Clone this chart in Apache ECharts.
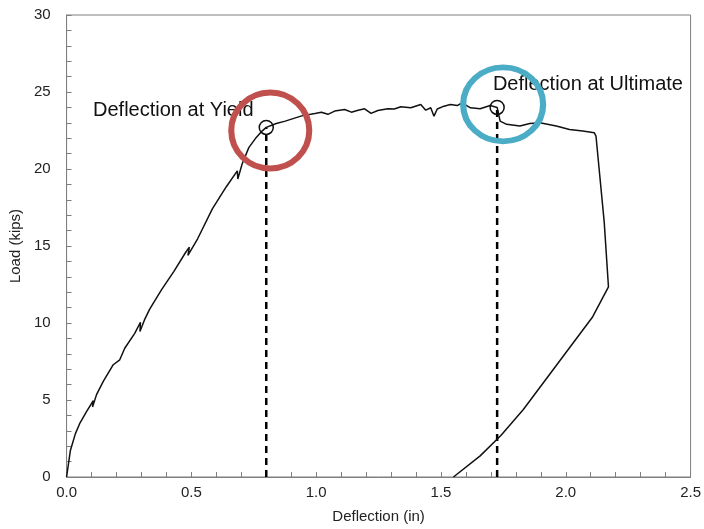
<!DOCTYPE html>
<html>
<head>
<meta charset="utf-8">
<script src="https://cdn.jsdelivr.net/npm/echarts@6/dist/echarts.min.js"></script>
<style>
	html, body { margin: 0; padding: 0; background: #fff; }
	#chart { width: 704px; height: 529px; }
</style>
</head>
<body>
<div id="chart"></div>
<script>
// load-deflection curve
var deflection = [0.000, 0.015, 0.035, 0.054, 0.081, 0.107, 0.104, 0.120, 0.147, 0.187, 0.213, 0.233,
	0.273, 0.296, 0.294, 0.312, 0.333, 0.380, 0.430, 0.478, 0.492, 0.486, 0.525, 0.584,
	0.640, 0.684, 0.692, 0.686, 0.703, 0.730, 0.760, 0.783, 0.800, 0.840, 0.876, 0.942,
	0.995, 1.021, 1.047, 1.074, 1.114, 1.141, 1.168, 1.194, 1.220, 1.247, 1.287, 1.313,
	1.339, 1.379, 1.419, 1.439, 1.459, 1.472, 1.485, 1.512, 1.538, 1.565, 1.585, 1.618,
	1.657, 1.697, 1.725, 1.737, 1.763, 1.816, 1.856, 1.896, 1.962, 2.015, 2.068, 2.114,
	2.121, 2.154, 2.171, 2.108, 1.830, 1.740, 1.657, 1.550];
var load = [0.00, 1.70, 2.80, 3.52, 4.28, 4.95, 4.55, 5.35, 6.21, 7.29, 7.61, 8.36,
	9.33, 10.05, 9.45, 10.20, 10.90, 12.15, 13.35, 14.61, 14.93, 14.39, 15.47, 17.41,
	18.85, 19.88, 20.00, 19.35, 20.31, 21.39, 22.05, 22.46, 22.70, 22.95, 23.11, 23.45,
	23.61, 23.69, 23.55, 23.76, 23.86, 23.69, 23.82, 23.91, 23.61, 23.80, 23.91, 23.90,
	24.04, 23.98, 24.19, 23.82, 23.98, 23.43, 23.90, 24.08, 24.19, 24.12, 24.30, 23.97,
	23.91, 24.12, 24.00, 23.11, 22.90, 22.79, 22.96, 23.00, 22.79, 22.57, 22.46, 22.36,
	22.14, 16.55, 12.35, 10.41, 4.38, 2.70, 1.37, 0.00];

// 标注点
var yieldPoint = [0.800, 22.70];
var ultimatePoint = [1.725, 24.00];
var yieldLabel = "Deflection at Yield";
var ultimateLabel = "Deflection at Ultimate";

var xTicks = [0, 0.5, 1.0, 1.5, 2.0, 2.5];
var yTicks = [0, 5, 10, 15, 20, 25, 30];

var curveData = deflection.map(function(d, i) { return [d, load[i]]; });

var axisGray = "#7f7f7f";
var textColor = "#222";
var fontName = "Liberation Sans, Arial, sans-serif";

var chart = echarts.init(document.getElementById("chart"));
var option = {
	backgroundColor: "#fff",
	animation: false,
	grid: {
		left: 63,
		right: 12,
		top: 15,
		bottom: 49,
		show: true,
		borderColor: axisGray,
		borderWidth: 1
	},
	xAxis: {
		type: "value",
		min: xTicks[0],
		max: xTicks[xTicks.length - 1],
		interval: 0.5,
		name: "Deflection (in)",
		nameLocation: "middle",
		nameGap: 32,
		nameTextStyle: { fontSize: 15, color: textColor, fontFamily: fontName },
		axisLine: { lineStyle: { color: axisGray } },
		axisTick: { inside: true, length: 5, lineStyle: { color: axisGray } },
		minorTick: { show: true, splitNumber: 5, length: 5, lineStyle: { color: axisGray } },
		splitLine: { show: false },
		axisLabel: {
			margin: 8,
			fontSize: 15,
			color: textColor,
			fontFamily: fontName,
			formatter: function(v) { return v.toFixed(1); }
		}
	},
	yAxis: {
		type: "value",
		min: yTicks[0],
		max: yTicks[yTicks.length - 1],
		interval: 5,
		name: "Load (kips)",
		nameLocation: "middle",
		nameGap: 35,
		nameTextStyle: { fontSize: 15, color: textColor, fontFamily: fontName },
		axisLine: { show: true, lineStyle: { color: axisGray } },
		axisTick: { show: true, inside: true, length: 5, lineStyle: { color: axisGray } },
		minorTick: { show: true, splitNumber: 5, length: 5, lineStyle: { color: axisGray } },
		splitLine: { show: false },
		axisLabel: { margin: 16, fontSize: 15, color: textColor, fontFamily: fontName }
	},
	series: [{
			name: "curve",
			type: "line",
			data: curveData,
			showSymbol: false,
			symbol: "none",
			lineStyle: { color: "#111", width: 1.5 },
			z: 3
		}, {
			name: "yieldDash",
			type: "line",
			data: [[yieldPoint[0], 0], yieldPoint],
			symbol: "none",
			lineStyle: { color: "#000", width: 2.5, type: [7, 5] },
			z: 2
		}, {
			name: "ultimateDash",
			type: "line",
			data: [[ultimatePoint[0], 0], ultimatePoint],
			symbol: "none",
			lineStyle: { color: "#000", width: 2.5, type: [7, 5] },
			z: 2
		}, {
			name: "points",
			type: "scatter",
			symbol: "circle",
			symbolSize: 14,
			itemStyle: { color: "rgba(0,0,0,0)", borderColor: "#111", borderWidth: 1.5, opacity: 1 },
			label: {
				show: true,
				fontSize: 20,
				color: "#111",
				fontFamily: fontName
			},
			data: [{
				value: yieldPoint,
				label: { formatter: yieldLabel, position: "left", offset: [0, -17] }
			}, {
				value: ultimatePoint,
				label: { formatter: ultimateLabel, position: "right", offset: [-17, -23] }
			}],
			z: 4
		}, {
			name: "rings",
			type: "scatter",
			symbol: "circle",
			silent: true,
			data: [{
				value: yieldPoint,
				symbolSize: [78, 76],
				symbolOffset: [4, 3],
				itemStyle: { color: "rgba(0,0,0,0)", borderColor: "#c0504d", borderWidth: 6, opacity: 1 }
			}, {
				value: ultimatePoint,
				symbolSize: [80, 74],
				symbolOffset: [6, -3],
				itemStyle: { color: "rgba(0,0,0,0)", borderColor: "#4bacc6", borderWidth: 6, opacity: 1 }
			}],
			z: 5
		}
	]
};
chart.setOption(option);
</script>
</body>
</html>
